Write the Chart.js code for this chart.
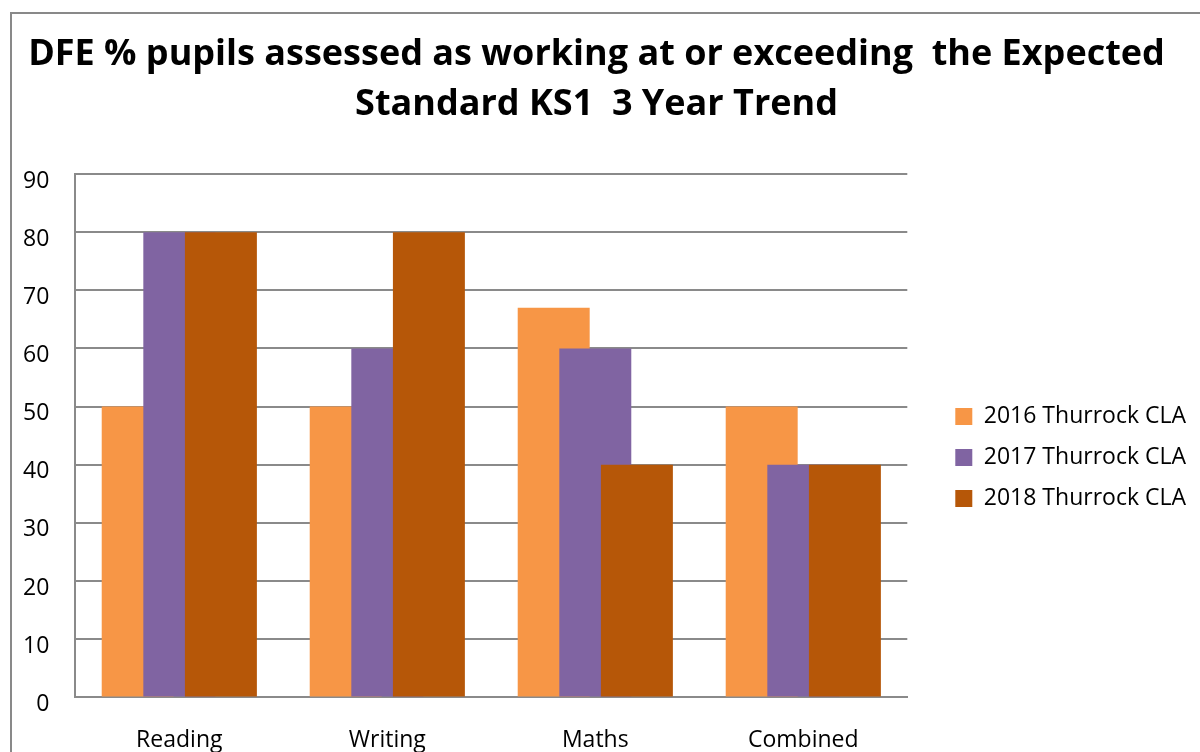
<!DOCTYPE html>
<html>
<head>
<meta charset="utf-8">
<script src="https://cdn.jsdelivr.net/npm/chart.js@4"></script>
<style>
  html, body { margin: 0; padding: 0; background: #fff; }
  #wrap { position: relative; width: 1200px; height: 752px; overflow: hidden; }
  #frame { position: absolute; left: 10px; top: 12px; width: 1300px; height: 900px; border: 2px solid #898989; box-sizing: border-box; }
  canvas { position: absolute; left: 0; top: 0; }
</style>
</head>
<body>
<div id="wrap">
  <div id="frame"></div>
  <canvas id="chart" width="1200" height="752"></canvas>
</div>
<script>
const categories = ['Reading', 'Writing', 'Maths', 'Combined'];
const seriesNames = ['2016 Thurrock CLA', '2017 Thurrock CLA', '2018 Thurrock CLA'];
const values2016 = [50, 50, 67, 50];
const values2017 = [80, 60, 60, 40];
const values2018 = [80, 80, 40, 40];
const yTicks = [0, 10, 20, 30, 40, 50, 60, 70, 80, 90];

const colors = ['#F79646', '#8064A2', '#B65708'];
const shifts = [-0.2, 0, 0.2]; // fraction of a category width, Excel-style overlap
const fontFamily = "'Open Sans', sans-serif";

// shift each series sideways so the bars overlap like the Excel original
const overlapPlugin = {
    id: 'overlap',
    beforeDatasetDraw(chart, args) {
        const x = chart.scales.x;
        const step = x.width / categories.length;
        chart.ctx.save();
        chart.ctx.translate(shifts[args.index] * step, 0);
    },
    afterDatasetDraw(chart) {
        chart.ctx.restore();
    }
};

const ctx = document.getElementById('chart').getContext('2d');
new Chart(ctx, {
    type: 'bar',
    data: {
        labels: categories,
        datasets: [values2016, values2017, values2018].map((vals, i) => ({
            label: seriesNames[i],
            data: vals,
            backgroundColor: colors[i],
            borderWidth: 0,
            grouped: false,
            order: 3 - i,
            categoryPercentage: 1,
            barPercentage: 0.346
        }))
    },
    options: {
        responsive: false,
        animation: false,
        layout: { padding: { left: -3, right: 4, top: 0, bottom: -23 } },
        plugins: {
            title: {
                display: true,
                text: ['DFE % pupils assessed as working at or exceeding  the Expected', 'Standard KS1  3 Year Trend'],
                color: '#000',
                font: { family: fontFamily, size: 36, weight: 'bold', lineHeight: '50px' },
                padding: { top: 30, bottom: 44 }
            },
            legend: {
                position: 'right',
                maxWidth: 320,
                // empty title only pushes the items down to sit beside the plot
                title: { display: true, text: '', font: { size: 20 }, padding: { top: 116, bottom: 0 } },
                labels: {
                    boxWidth: 17,
                    boxHeight: 17,
                    padding: 18,
                    color: '#000',
                    font: { family: fontFamily, size: 23 },
                    sort: (a, b) => a.datasetIndex - b.datasetIndex
                }
            },
            tooltip: { enabled: false }
        },
        scales: {
            x: {
                grid: { display: false },
                border: { display: true, color: '#8a8a8a', width: 2 },
                ticks: { color: '#000', padding: 21, font: { family: fontFamily, size: 23 } }
            },
            y: {
                min: 0,
                max: 90,
                afterBuildTicks: scale => { scale.ticks = yTicks.map(v => ({ value: v })); },
                grid: { color: '#8a8a8a', lineWidth: 2, drawTicks: false },
                border: { display: true, color: '#8a8a8a', width: 2 },
                ticks: { color: '#000', padding: 26, labelOffset: 7, font: { family: fontFamily, size: 23 } }
            },
            gap: {
                position: 'right',
                display: true,
                grid: { display: false },
                border: { display: false },
                ticks: { display: false },
                afterFit: scale => { scale.width = 30; }
            }
        }
    },
    plugins: [overlapPlugin]
});
</script>
</body>
</html>
